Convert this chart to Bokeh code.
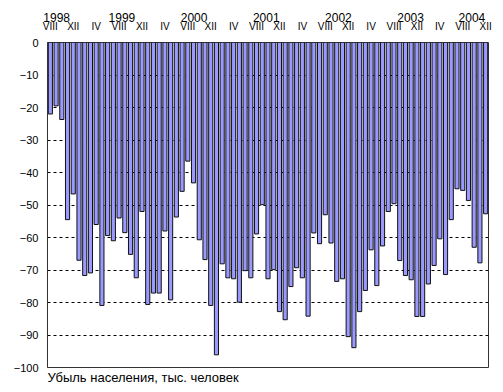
from bokeh.plotting import figure
from bokeh.models import Range1d, FixedTicker, LinearAxis, Title
from bokeh.embed import file_html
from bokeh.resources import INLINE

# Monthly population decline, thousands, from VIII 1998 to XII 2004
start_year = 1998
start_month = 8
roman = ["I", "II", "III", "IV", "V", "VI", "VII", "VIII", "IX", "X", "XI", "XII"]
decline = [
    -22.0, -19.5, -23.7, -54.5, -46.6, -67.0, -71.7, -70.9, -56.0, -80.9,
    -59.4, -61.0, -54.0, -58.5, -65.2, -72.4, -52.0, -80.6, -77.1, -77.1,
    -58.0, -79.2, -53.7, -45.8, -36.5, -43.2, -60.7, -66.8, -80.9, -96.1,
    -68.1, -72.4, -72.7, -79.9, -70.2, -72.4, -58.9, -49.9, -72.7, -69.9,
    -82.8, -85.3, -75.1, -69.3, -72.4, -84.2, -58.6, -61.9, -53.0, -61.7,
    -73.5, -72.7, -90.5, -93.9, -82.8, -76.3, -63.8, -74.8, -62.6, -52.0,
    -49.6, -67.1, -71.7, -73.0, -84.3, -84.3, -74.3, -68.6, -60.4, -71.4,
    -54.5, -45.0, -45.5, -48.6, -63.0, -67.8, -52.7,
]
years = [1998, 1999, 2000, 2001, 2002, 2003, 2004]
y_ticks = [0, -10, -20, -30, -40, -50, -60, -70, -80, -90, -100]
x_label = "Убыль населения, тыс. человек"

n = len(decline)
idx = list(range(n))
month_of = [(start_month - 1 + i) % 12 for i in idx]

FONT = "Liberation Sans"

p = figure(width=503, height=392, output_backend="svg", toolbar_location=None,
           x_range=Range1d(-0.5, n - 0.5), y_range=Range1d(-100, 0),
           x_axis_location=None, y_axis_location=None,
           min_border_left=47, min_border_right=15, min_border_top=42, min_border_bottom=25)
p.background_fill_color = "white"
p.border_fill_color = "white"
p.outline_line_color = "#333333"
p.outline_line_width = 1

p.vbar(x=idx, top=0, bottom=decline, width=0.72,
       fill_color="#9999FF", line_color="#111111", line_width=1)


def plain(ax):
    ax.axis_line_color = None
    ax.major_tick_line_color = None
    ax.minor_tick_line_color = None
    ax.major_tick_out = 0
    ax.major_tick_in = 0
    ax.minor_tick_out = 0
    ax.minor_tick_in = 0
    ax.major_label_text_font = FONT
    ax.major_label_text_color = "black"


# y axis
yax = LinearAxis(ticker=FixedTicker(ticks=y_ticks))
plain(yax)
yax.axis_line_color = "#333333"
yax.major_label_text_font_size = "11px"
yax.major_label_standoff = 9
p.add_layout(yax, "left")

# month labels on top
mticks = [i for i in idx if i % 4 == 0]
max_ = LinearAxis(ticker=FixedTicker(ticks=mticks),
                  major_label_overrides={i: roman[month_of[i]] for i in mticks})
plain(max_)
max_.major_label_text_font_size = "10px"
max_.major_label_standoff = 11
p.add_layout(max_, "above")

# year labels on top (placed near each year's August, kept inside the plot width)
yticks_x = []
for y in years:
    aug = (y - start_year) * 12 + (8 - start_month)
    pos = aug + 0.5 + 0.6 * (y - 1999)
    yticks_x.append(round(min(max(pos, 1.1), n - 3.4), 2))
yrax = LinearAxis(ticker=FixedTicker(ticks=yticks_x),
                  major_label_overrides={t: str(y) for t, y in zip(yticks_x, years)})
plain(yrax)
yrax.major_label_text_font_size = "12px"
yrax.major_label_standoff = -4
p.add_layout(yrax, "above")

p.ygrid.ticker = FixedTicker(ticks=y_ticks[1:-1])
p.ygrid.grid_line_color = "black"
p.ygrid.grid_line_dash = "3 3"
p.ygrid.grid_line_width = 1
p.xgrid.grid_line_color = None

t = Title(text=x_label, align="left", text_font=FONT, text_font_size="13px",
          text_font_style="normal", text_color="black", standoff=0)
p.add_layout(t, "below")

open("out.html", "w").write(file_html(p, INLINE))
